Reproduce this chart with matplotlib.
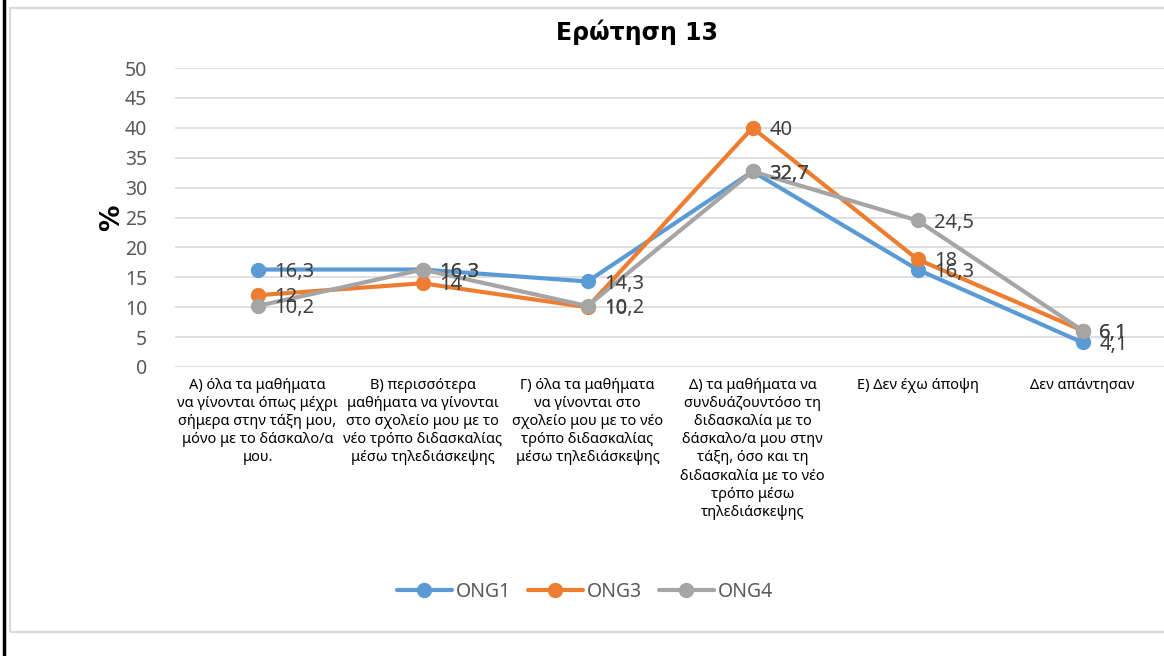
import matplotlib
matplotlib.use("Agg")
import matplotlib.pyplot as plt
from matplotlib.patches import Rectangle
from matplotlib.lines import Line2D

plt.rcParams['font.family'] = ['Noto Sans', 'DejaVu Sans']

categories = [
    "Α) όλα τα μαθήματα\nνα γίνονται όπως μέχρι\nσήμερα στην τάξη μου,\nμόνο με το δάσκαλο/α\nμου.",
    "Β) περισσότερα\nμαθήματα να γίνονται\nστο σχολείο μου με το\nνέο τρόπο διδασκαλίας\nμέσω τηλεδιάσκεψης",
    "Γ) όλα τα μαθήματα\nνα γίνονται στο\nσχολείο μου με το νέο\nτρόπο διδασκαλίας\nμέσω τηλεδιάσκεψης",
    "Δ) τα μαθήματα να\nσυνδυάζουντόσο τη\nδιδασκαλία με το\nδάσκαλο/α μου στην\nτάξη, όσο και τη\nδιδασκαλία με το νέο\nτρόπο μέσω\nτηλεδιάσκεψης",
    "Ε) Δεν έχω άποψη",
    "Δεν απάντησαν",
]
ong1 = [16.3, 16.3, 14.3, 32.7, 16.3, 4.1]
ong3 = [12, 14, 10, 40, 18, 6.1]
ong4 = [10.2, 16.3, 10.2, 32.7, 24.5, 6.1]

series = [("ONG1", ong1, "#5B9BD5"),
          ("ONG3", ong3, "#ED7D31"),
          ("ONG4", ong4, "#A5A5A5")]

fig = plt.figure(figsize=(11.64, 6.56), dpi=100)

# chart frame + left black edge
fig.patches.append(Rectangle((10 / 1164, 1 - 632 / 656), 1.2, (632 - 8) / 656,
                             transform=fig.transFigure, fill=False,
                             edgecolor="#D9D9D9", lw=1.5))
fig.add_artist(Line2D([4 / 1164, 4 / 1164], [0, 1], transform=fig.transFigure,
                      color="black", lw=2.5))

ax = fig.add_axes([175 / 1164, 1 - 367 / 656, 990 / 1164, 299 / 656])
x = list(range(len(categories)))

for name, vals, col in series:
    ax.plot(x, vals, color=col, lw=3, marker="o", ms=10, label=name,
            solid_capstyle="round", zorder=3)
    for xi, v in zip(x, vals):
        ax.annotate(f"{v:g}".replace(".", ","), (xi, v), xytext=(12, -1.5),
                    textcoords="offset points", ha="left", va="center",
                    fontsize=14.5, color="#404040", zorder=4)

ax.set_xlim(-0.5, len(categories) - 0.5)
ax.set_ylim(0, 50)
ax.set_yticks(range(0, 51, 5))
ax.set_xticks(x)
ax.set_xticklabels(categories, fontsize=10.5, linespacing=1.28, color="black",
                   va="top", ha="center")
ax.tick_params(axis="both", length=0)
ax.tick_params(axis="y", labelsize=14, labelcolor="#595959", pad=20)
ax.tick_params(axis="x", pad=8)
ax.grid(axis="y", color="#D9D9D9", lw=1.2)
ax.set_axisbelow(True)
for s in ax.spines.values():
    s.set_visible(False)

ax.set_ylabel("%", fontsize=19, fontweight="bold", family="DejaVu Sans",
              labelpad=0)

fig.text(637 / 1164, 1 - 32 / 656, "Ερώτηση 13", ha="center", va="center",
         fontsize=17, fontweight="bold", family="DejaVu Sans")

fig.legend(loc="center", bbox_to_anchor=(585 / 1164, 1 - 592 / 656), ncol=3,
           frameon=False, fontsize=14, handlelength=2.8, columnspacing=0.9,
           handletextpad=0.2, labelcolor="#595959")

fig.savefig("out.png", dpi=100, facecolor="white")
